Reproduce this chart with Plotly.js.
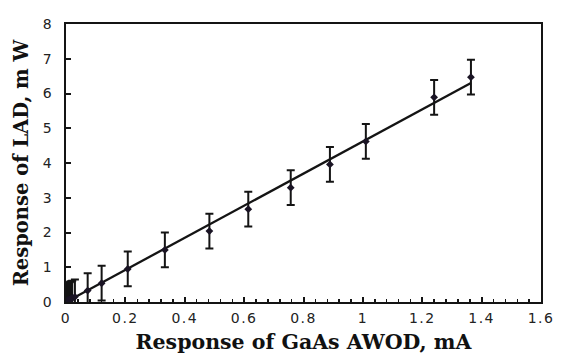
<!DOCTYPE html>
<html>
<head>
<meta charset="utf-8">
<script src="https://cdn.plot.ly/plotly-3.0.1.min.js"></script>
<style>
html,body{margin:0;padding:0;background:#fff;}
#chart{width:563px;height:354px;}
#chart .xtick text, #chart .ytick text{letter-spacing:1.5px;}
</style>
</head>
<body>
<div id="chart"></div>
<script>
// Measured points: GaAs AWOD response (mA) vs LAD response (mW)
const awod = [0.0, 0.003, 0.006, 0.009, 0.012, 0.015, 0.018, 0.021, 0.03, 0.073, 0.12, 0.208, 0.333, 0.483, 0.614, 0.757, 0.889, 1.01, 1.24, 1.364];
const lad  = [0.02, 0.03, 0.05, 0.06, 0.07, 0.09, 0.1, 0.11, 0.15, 0.33, 0.54, 0.95, 1.5, 2.04, 2.67, 3.29, 3.96, 4.62, 5.89, 6.47];
const ladErr = [0.5, 0.5, 0.5, 0.5, 0.5, 0.5, 0.5, 0.5, 0.5, 0.5, 0.5, 0.5, 0.5, 0.5, 0.5, 0.5, 0.5, 0.5, 0.5, 0.5];
// Linear fit line
const fitX = [0, 1.364];
const fitY = [0, 6.3];
const xTicks = [0, 0.2, 0.4, 0.6, 0.8, 1, 1.2, 1.4, 1.6];
const xTickText = ['0', '0.2', '0.4', '0.6', '0.8', '1', '1.2', '1.4', '1.6'];
const yTicks = [0, 1, 2, 3, 4, 5, 6, 7, 8];

const ink = '#141414';
const serif = "'DejaVu Serif', 'Liberation Serif', serif";
const sans = "'DejaVu Sans', Arial, sans-serif";
const traces = [
  {
    x: fitX, y: fitY, type: 'scatter', mode: 'lines',
    line: {color: ink, width: 2.3}, hoverinfo: 'skip', showlegend: false
  },
  {
    x: awod, y: lad, type: 'scatter', mode: 'markers',
    marker: {symbol: 'diamond', size: 6, color: '#1a1424'},
    error_y: {type: 'data', array: ladErr, visible: true, color: ink, thickness: 2, width: 4},
    showlegend: false
  }
];

const layout = {
  width: 563, height: 354,
  margin: {l: 66, r: 22, t: 24, b: 52},
  paper_bgcolor: '#fff', plot_bgcolor: '#fff',
  font: {family: sans, size: 14, color: '#222'},
  xaxis: {
    range: [0, 1.6], tickvals: xTicks, ticktext: xTickText,
    showline: true, linecolor: ink, linewidth: 2, mirror: true,
    ticks: 'inside', ticklen: 5, tickwidth: 2, tickcolor: ink,
    minor: {dtick: 0.04, ticks: 'inside', ticklen: 3, tickwidth: 1.5, tickcolor: ink, showgrid: false},
    showgrid: false, zeroline: false,
    tickfont: {family: sans, size: 14, color: '#222'}, ticklabelstandoff: 2,
    title: {text: 'Response of GaAs AWOD, mA', font: {family: serif, size: 20.5, color: '#111', weight: 'bold'}, standoff: 11}
  },
  yaxis: {
    range: [0, 8], tickvals: yTicks,
    showline: true, linecolor: ink, linewidth: 2, mirror: true,
    ticks: 'inside', ticklen: 5, tickwidth: 2, tickcolor: ink,
    showgrid: false, zeroline: false,
    tickfont: {family: sans, size: 14, color: '#222'}, ticklabelstandoff: 8,
    title: {text: 'Response of LAD, m W', font: {family: serif, size: 19.5, color: '#111', weight: 'bold'}, standoff: 10}
  }
};

Plotly.newPlot('chart', traces, layout, {staticPlot: true, displayModeBar: false});
</script>
</body>
</html>
